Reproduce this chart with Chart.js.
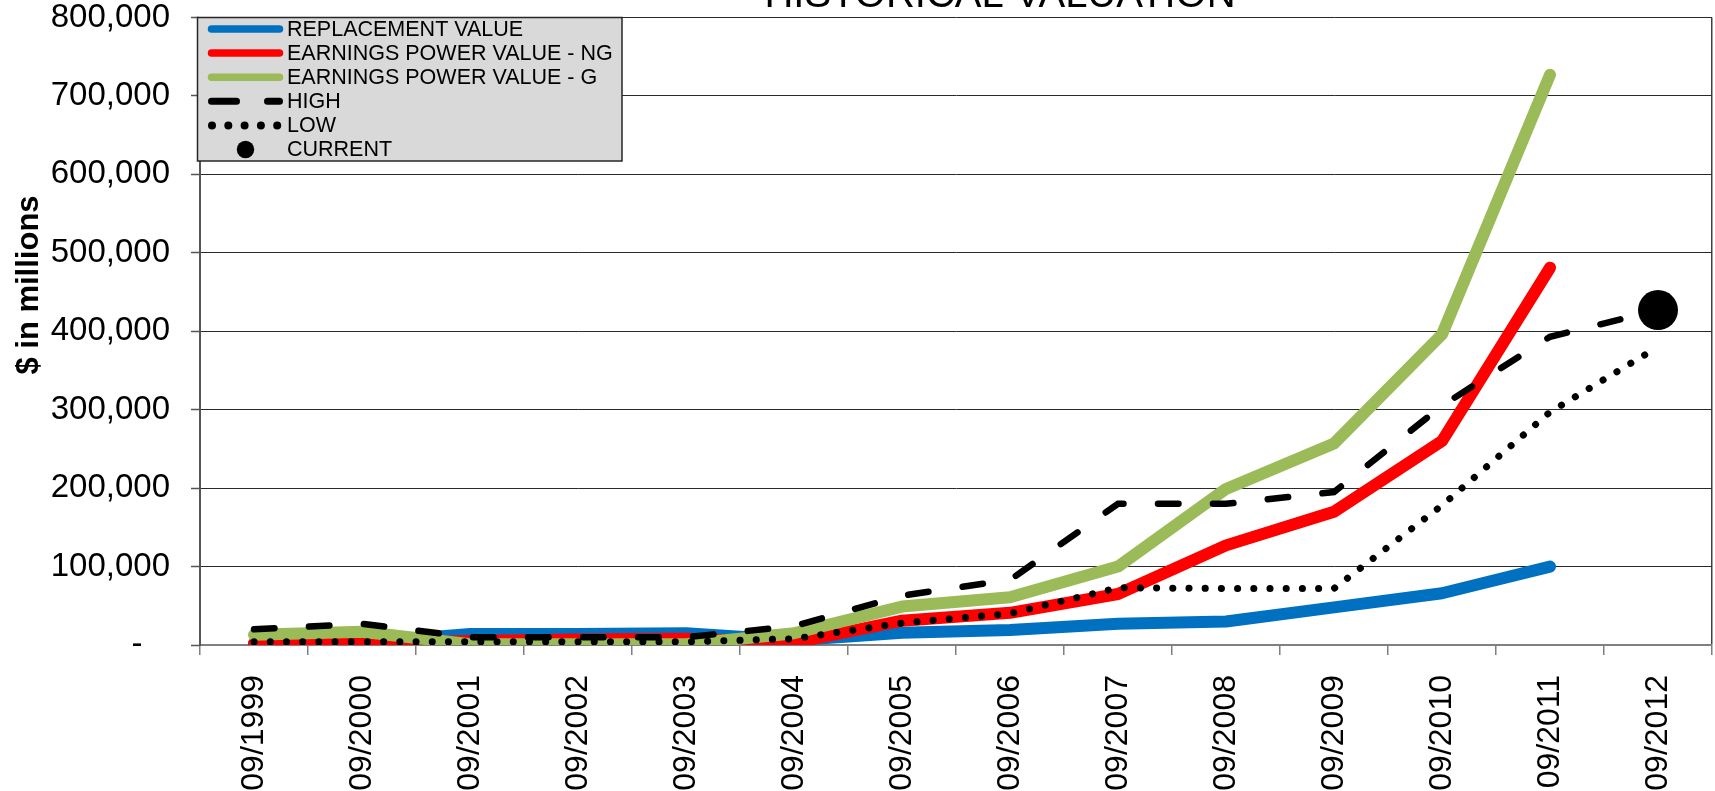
<!DOCTYPE html>
<html>
<head>
<meta charset="utf-8">
<title>Historical Valuation</title>
<script src="https://cdn.jsdelivr.net/npm/chart.js@4/dist/chart.umd.min.js"></script>
<style>
  html, body { margin: 0; padding: 0; background: #ffffff; overflow: hidden; }
  #wrap { width: 1715px; height: 791px; }
</style>
</head>
<body>
<div id="wrap"><canvas id="chart" width="1715" height="791"></canvas></div>
<script>
// Fiscal year-ends (September)
const categories = ['09/1999', '09/2000', '09/2001', '09/2002', '09/2003', '09/2004', '09/2005',
                    '09/2006', '09/2007', '09/2008', '09/2009', '09/2010', '09/2011', '09/2012'];

// $ in millions
const replacementValue   = [2000, 3000, 14000, 14000, 15000, 6000, 15500, 19000, 27000, 30000, 48000, 66000, 100000, null];
const epvNoGrowth        = [2000, 3000, 5000, 7000, 8000, 3000, 31000, 41000, 65000, 127000, 170000, 260000, 481000, null];
const epvGrowth          = [13000, 17000, 1000, 1000, 1000, 15000, 49000, 61000, 100000, 199000, 257000, 396000, 727000, null];
const highPrice          = [20000, 27000, 10000, 10000, 10000, 24000, 63000, 83000, 180000, 180000, 195000, 305000, 393000, 427000];
const lowPrice           = [4000, 4000, 4000, 4000, 4000, 8000, 28000, 40000, 73000, 72000, 72000, 178000, 297000, 380000];
const currentValue       = [null, null, null, null, null, null, null, null, null, null, null, null, null, 427000];

// Value axis ticks
const yTickValues = [0, 100000, 200000, 300000, 400000, 500000, 600000, 700000, 800000];
const yTickLabels = ['-   ', '100,000', '200,000', '300,000', '400,000', '500,000', '600,000', '700,000', '800,000'];

const chartTitle = 'HISTORICAL VALUATION';
const yAxisTitle = '$ in millions';

const FONT = "'Liberation Sans', Arial, sans-serif";
Chart.defaults.font.family = FONT;
Chart.defaults.color = '#000000';

// Title, axis caption and boxed legend drawn over the plot
const frameDecor = {
  id: 'frameDecor',
  afterDraw(chart) {
    const ctx = chart.ctx;
    ctx.save();

    // Title
    ctx.fillStyle = '#000';
    ctx.font = '40px ' + FONT;
    ctx.textAlign = 'center';
    ctx.textBaseline = 'alphabetic';
    ctx.fillText(chartTitle, 1000, 7);

    // Y axis caption
    ctx.save();
    ctx.translate(29, 285);
    ctx.rotate(-Math.PI / 2);
    ctx.font = 'bold 31px ' + FONT;
    ctx.textAlign = 'center';
    ctx.textBaseline = 'middle';
    ctx.fillText(yAxisTitle, 0, 0);
    ctx.restore();

    // Legend box
    const bx = 197.5, by = 17.5, bw = 424.5, bh = 143.5;
    ctx.fillStyle = '#d9d9d9';
    ctx.fillRect(bx, by, bw, bh);
    ctx.strokeStyle = '#262626';
    ctx.lineWidth = 1.5;
    ctx.strokeRect(bx, by, bw, bh);

    const x0 = 211.5, x1 = 279.5;
    const rowY = i => 29 + i * 24.1;
    chart.data.datasets.forEach((ds, i) => {
      const y = rowY(i);
      ctx.save();
      ctx.strokeStyle = ds.borderColor;
      ctx.fillStyle = ds.borderColor;
      ctx.lineCap = 'round';
      if (ds.legendKind === 'solid') {
        ctx.lineWidth = 7.5;
        ctx.beginPath(); ctx.moveTo(x0, y); ctx.lineTo(x1, y); ctx.stroke();
      } else if (ds.legendKind === 'dash') {
        ctx.lineWidth = 7;
        ctx.setLineDash([25, 31]);
        ctx.beginPath(); ctx.moveTo(x0, y); ctx.lineTo(x1, y); ctx.stroke();
      } else if (ds.legendKind === 'dot') {
        for (let k = 0; k < 5; k++) {
          ctx.beginPath(); ctx.arc(212 + k * 16.3, y, 4, 0, Math.PI * 2); ctx.fill();
        }
      } else {
        ctx.fillStyle = ds.pointBackgroundColor;
        ctx.beginPath(); ctx.arc(245.5, y, 8.7, 0, Math.PI * 2); ctx.fill();
      }
      ctx.restore();
      ctx.fillStyle = '#000';
      ctx.font = '21.5px ' + FONT;
      ctx.textAlign = 'left';
      ctx.textBaseline = 'middle';
      ctx.fillText(ds.label, 287, y + 1);
    });

    ctx.restore();
  }
};

new Chart(document.getElementById('chart').getContext('2d'), {
  type: 'line',
  data: {
    labels: categories,
    datasets: [
      { label: 'REPLACEMENT VALUE', data: replacementValue, legendKind: 'solid',
        borderColor: '#0070C0', borderWidth: 12, borderCapStyle: 'round', borderJoinStyle: 'round', order: 6 },
      { label: 'EARNINGS POWER VALUE - NG', data: epvNoGrowth, legendKind: 'solid',
        borderColor: '#FF0000', borderWidth: 12, borderCapStyle: 'round', borderJoinStyle: 'round', order: 5 },
      { label: 'EARNINGS POWER VALUE - G', data: epvGrowth, legendKind: 'solid',
        borderColor: '#9BBB59', borderWidth: 12, borderCapStyle: 'round', borderJoinStyle: 'round', order: 4 },
      { label: 'HIGH', data: highPrice, legendKind: 'dash',
        borderColor: '#000000', borderWidth: 6.5, borderDash: [20.5, 34.5], borderCapStyle: 'round', order: 3 },
      { label: 'LOW', data: lowPrice, legendKind: 'dot',
        borderColor: '#000000', borderWidth: 7, borderDash: [0.1, 16.1], borderCapStyle: 'round', order: 2 },
      { label: 'CURRENT', data: currentValue, legendKind: 'marker', showLine: false,
        borderColor: '#000000', pointRadius: 20, pointBackgroundColor: '#000000',
        pointBorderColor: '#000000', pointBorderWidth: 0, order: 1 }
    ]
  },
  options: {
    responsive: false,
    animation: false,
    devicePixelRatio: 1,
    layout: { autoPadding: false, padding: { top: 17.5, right: 3, left: 0, bottom: 0 } },
    elements: { point: { radius: 0, hoverRadius: 0 }, line: { tension: 0 } },
    plugins: { legend: { display: false }, tooltip: { enabled: false }, title: { display: false } },
    scales: {
      x: {
        type: 'category',
        offset: true,
        grid: {
          display: true,
          offset: true,
          color: c => (c.type === 'scale' ? '#404040' : 'rgba(0,0,0,0)'),
          lineWidth: 1.5,
          tickLength: 10,
          tickColor: '#7f7f7f',
          tickWidth: 1.5
        },
        border: { display: true, color: '#808080', width: 2 },
        ticks: {
          autoSkip: false, minRotation: 90, maxRotation: 90, padding: 20,
          color: '#000', font: { size: 32 }
        },
        afterFit: s => { s.height = 146; s.paddingLeft = 0; s.paddingRight = 0; }
      },
      y: {
        min: 0,
        max: 800000,
        grid: { color: '#2a2a2a', lineWidth: 1, tickLength: 9, tickColor: '#555', tickWidth: 1.5 },
        border: { display: true, color: '#555', width: 2 },
        ticks: {
          stepSize: 100000, padding: 21, color: '#000', font: { size: 33, lineHeight: 1 },
          callback: v => yTickLabels[yTickValues.indexOf(v)]
        },
        afterFit: s => { s.width = 200; s.paddingTop = 0; s.paddingBottom = 0; }
      }
    }
  },
  plugins: [frameDecor]
});
</script>
</body>
</html>
